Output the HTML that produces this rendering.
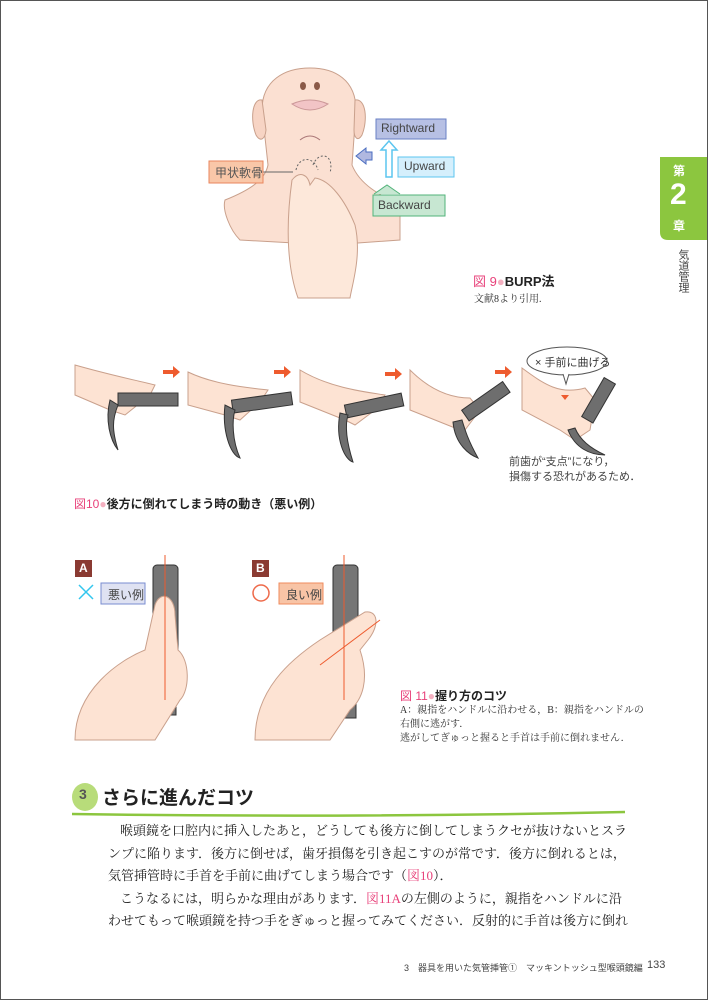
<!DOCTYPE html>
<html><head><meta charset="utf-8"><style>
body{margin:0;width:708px;height:1000px;background:#fff;position:relative;overflow:hidden;font-family:"Liberation Sans","Noto Sans CJK JP",sans-serif;}
.a{position:absolute;white-space:nowrap;}
.serif{font-family:"Liberation Serif","Noto Serif CJK SC",serif;}
</style></head><body>
<div class="a" style="left:0;top:0;width:706px;height:998px;border:1px solid #555;"></div>
<svg class="a" style="left:0;top:0" width="708" height="1000">
 <!-- neck / face -->
 <path d="M225,200 C250,190 265,180 268,165 L262,110 C262,80 285,68 310,68 C335,68 356,80 356,110 L352,165 C360,185 380,195 400,205 L400,240 L330,245 L240,240 C230,230 222,210 225,200Z" fill="#fbe0d2" stroke="#c9a08c" stroke-width="1"/>
 <path d="M262,100 C252,98 250,120 256,135 C260,142 265,140 266,130Z" fill="#f7d4c4" stroke="#c9a08c"/>
 <path d="M355,100 C366,98 368,120 362,135 C358,142 354,138 354,130Z" fill="#f7d4c4" stroke="#c9a08c"/>
 <path d="M292,104 Q310,96 328,104 Q310,116 292,104Z" fill="#f2c4c6" stroke="#c99"/>
 <ellipse cx="303" cy="86" rx="3" ry="4" fill="#8a5a48"/><ellipse cx="317" cy="86" rx="3" ry="4" fill="#8a5a48"/>
 <path d="M300,140 Q310,132 320,140" fill="none" stroke="#a77"/>
 <!-- hand -->
 <path d="M292,180 C300,170 308,175 310,185 L315,178 C330,180 345,200 355,225 C362,255 352,285 350,298 L298,298 C288,270 285,230 292,180Z" fill="#fde8da" stroke="#c9a08c"/>
 <path d="M296,170 c3,-14 18,-14 22,0 M313,165 c5,-14 22,-12 17,8" fill="none" stroke="#666" stroke-dasharray="2,2"/>
 <!-- callouts -->
 <line x1="262" y1="172" x2="293" y2="172" stroke="#666"/>
 <rect x="209" y="161" width="54" height="22" fill="#f9c7a8" stroke="#e9865e"/>
 <rect x="376" y="119" width="70" height="20" fill="#b7c0e4" stroke="#6a80c4"/>
 <rect x="398" y="157" width="56" height="20" fill="#d5effc" stroke="#5cc5ef"/>
 <rect x="373" y="195" width="72" height="21" fill="#c7e7d2" stroke="#52b37a"/>
 <path d="M356,156 l10,-8 v4 h6 v8 h-6 v4z" fill="#b0b8e0" stroke="#4a6dc0"/>
 <path d="M386,177 v-27 h-5 l8,-9 l8,9 h-5 v27z" fill="#fff" stroke="#5cc5ef" stroke-width="1.5"/>
 <path d="M374,194 l13,-9 l13,9" fill="#c7e7d2" stroke="#52b37a"/>
 <!-- figure 10 hands -->
 <g fill="#fde3d3" stroke="#c9a08c">
  <path d="M75,365 C110,375 135,380 155,385 L150,395 L125,415 L110,410 L75,395Z"/>
  <path d="M188,372 C215,385 250,388 268,390 L260,402 L240,420 L225,415 L188,405Z"/>
  <path d="M300,370 C330,388 365,392 385,395 L375,410 L355,425 L345,420 L300,402Z"/>
  <path d="M410,370 C430,390 450,398 470,398 L480,410 L465,430 L455,428 L410,410Z"/>
  <path d="M522,368 C545,385 560,395 585,388 L595,400 L590,430 L575,440 L560,430 L522,410Z"/>
 </g>
 <g fill="#6e6e6e" stroke="#333">
  <rect x="118" y="393" width="60" height="13"/>
  <path d="M110,400 C105,420 110,440 118,450 C112,430 112,420 118,405Z"/>
  <rect x="232" y="396" width="60" height="13" transform="rotate(-8 262 402)"/>
  <path d="M225,405 C222,430 230,455 240,458 C232,440 232,420 235,410Z"/>
  <rect x="345" y="399" width="58" height="13" transform="rotate(-12 374 405)"/>
  <path d="M340,413 C335,440 345,460 353,462 C346,440 345,425 348,415Z"/>
  <rect x="460" y="395" width="50" height="13" transform="rotate(-35 485 400)"/>
  <path d="M453,422 C455,445 470,455 478,458 C468,440 465,430 462,420Z"/>
  <rect x="575" y="395" width="45" height="13" transform="rotate(-60 597 400)"/>
  <path d="M568,430 C575,448 590,455 605,455 C590,448 580,440 575,428Z"/>
 </g>
 <g fill="#ee5b2e">
  <path d="M163,370 h10 v-4 l7,6 l-7,6 v-4 h-10z"/><path d="M274,370 h10 v-4 l7,6 l-7,6 v-4 h-10z"/>
  <path d="M385,372 h10 v-4 l7,6 l-7,6 v-4 h-10z"/><path d="M495,370 h10 v-4 l7,6 l-7,6 v-4 h-10z"/>
  <path d="M561,395 h8 l-4,5z"/>
 </g>
 <ellipse cx="567" cy="361" rx="40" ry="14" fill="#fff" stroke="#555"/>
 <path d="M563,374 l3,10 l3,-10" fill="#fff" stroke="#555"/>
 <!-- fig 11 -->
 <rect x="75" y="560" width="17" height="17" fill="#8a3a32"/>
 <rect x="252" y="560" width="17" height="17" fill="#8a3a32"/>
 <path d="M79,585 l14,14 M93,585 l-14,14" stroke="#33c6ee" stroke-width="1.5"/>
 <circle cx="261" cy="593" r="8" fill="none" stroke="#ee6a4a" stroke-width="1.5"/>
 <rect x="101" y="583" width="44" height="21" fill="#dfe2f2" stroke="#7a8cd0"/>
 <rect x="279" y="583" width="44" height="21" fill="#f8c4a6" stroke="#ef8b5e"/>
 <g fill="#767676" stroke="#333">
  <rect x="153" y="565" width="25" height="135" rx="4"/><rect x="158" y="680" width="18" height="35"/>
  <rect x="333" y="565" width="25" height="130" rx="4"/><rect x="338" y="678" width="18" height="40"/>
 </g>
 <g fill="#fde3d3" stroke="#c9a08c">
  <path d="M75,740 C75,690 120,660 145,650 L155,605 C160,590 175,595 175,615 L178,650 C190,660 190,690 180,700 L155,740Z"/>
  <path d="M255,740 C255,690 290,660 320,640 L365,612 C378,610 380,625 368,640 L360,650 C370,680 362,700 350,710 L330,740Z"/>
 </g>
 <path d="M165,555 V700 M344,555 V700" stroke="#ee5b2e" stroke-width="1"/>
 <path d="M320,665 L380,620" stroke="#ee5b2e"/>
 <!-- section -->
 <ellipse cx="85" cy="797" rx="13" ry="14" fill="#b8dc7a"/>
 <path d="M72,814 Q350,818 625,812" stroke="#8cc63f" stroke-width="2.5" fill="none"/>
 <!-- tab -->
 <path d="M660,157 H707 V240 H668 Q660,240 660,232Z" fill="#8cc63f"/>
</svg>

<div class="a" style="left:215px;top:164px;font-size:12px;color:#555">甲状軟骨</div>
<div class="a" style="left:381px;top:121px;font-size:12px;color:#444">Rightward</div>
<div class="a" style="left:404px;top:159px;font-size:12px;color:#444">Upward</div>
<div class="a" style="left:378px;top:198px;font-size:12px;color:#444">Backward</div>
<div class="a" style="left:473px;top:271px;font-size:13px;font-weight:bold;color:#222"><span style="color:#e8417a;font-weight:normal">図 9</span><span style="color:#f4b0c0">●</span>BURP法</div>
<div class="a serif" style="left:474px;top:290px;font-size:10px;color:#333">文献8より引用.</div>
<div class="a" style="left:535px;top:354px;font-size:11px;color:#333">× 手前に曲げる</div>
<div class="a" style="left:509px;top:455px;font-size:11px;color:#444;line-height:15px">前歯が“支点”になり，<br>損傷する恐れがあるため．</div>
<div class="a" style="left:74px;top:495px;font-size:12px;font-weight:bold;color:#222"><span style="color:#e8417a;font-weight:normal">図10</span><span style="color:#f4b0c0">●</span>後方に倒れてしまう時の動き（悪い例）</div>
<div class="a" style="left:79px;top:561px;font-size:12px;color:#fff;font-weight:bold">A</div>
<div class="a" style="left:256px;top:561px;font-size:12px;color:#fff;font-weight:bold">B</div>
<div class="a" style="left:108px;top:586px;font-size:12px;color:#444">悪い例</div>
<div class="a" style="left:286px;top:586px;font-size:12px;color:#444">良い例</div>
<div class="a" style="left:400px;top:687px;font-size:12px;font-weight:bold;color:#222"><span style="color:#e8417a;font-weight:normal">図 11</span><span style="color:#f4b0c0">●</span>握り方のコツ</div>
<div class="a serif" style="left:400px;top:704px;font-size:10px;color:#333;line-height:14px">A：親指をハンドルに沿わせる，B：親指をハンドルの<br>右側に逃がす．<br>逃がしてぎゅっと握ると手首は手前に倒れません．</div>
<div class="a" style="left:79px;top:786px;font-size:14px;font-weight:bold;color:#555">3</div>
<div class="a" style="left:102px;top:783px;font-size:19px;font-weight:bold;color:#222">さらに進んだコツ</div>
<div class="a serif" style="left:120px;top:820px;font-size:13px;color:#222">喉頭鏡を口腔内に挿入したあと，どうしても後方に倒してしまうクセが抜けないとスラ</div>
<div class="a serif" style="left:108px;top:843px;font-size:13px;color:#222">ンプに陥ります．後方に倒せば，歯牙損傷を引き起こすのが常です．後方に倒れるとは，</div>
<div class="a serif" style="left:108px;top:865px;font-size:13px;color:#222">気管挿管時に手首を手前に曲げてしまう場合です（<span style="color:#e8417a">図10</span>）．</div>
<div class="a serif" style="left:120px;top:888px;font-size:13px;color:#222">こうなるには，明らかな理由があります．<span style="color:#e8417a">図11A</span>の左側のように，親指をハンドルに沿</div>
<div class="a serif" style="left:108px;top:910px;font-size:13px;color:#222">わせてもって喉頭鏡を持つ手をぎゅっと握ってみてください．反射的に手首は後方に倒れ</div>
<div class="a" style="left:404px;top:961px;font-size:9px;color:#444">3　器具を用いた気管挿管①　マッキントッシュ型喉頭鏡編</div>
<div class="a" style="left:647px;top:959px;font-size:11px;color:#444">133</div>
<div class="a" style="left:673px;top:162px;font-size:12px;font-weight:bold;color:#fff">第</div>
<div class="a" style="left:670px;top:178px;font-size:30px;font-weight:bold;color:#fff">2</div>
<div class="a" style="left:673px;top:217px;font-size:12px;font-weight:bold;color:#fff">章</div>
<div class="a" style="left:675px;top:249px;font-size:11px;color:#444;writing-mode:vertical-rl">気道管理</div>
</body></html>
